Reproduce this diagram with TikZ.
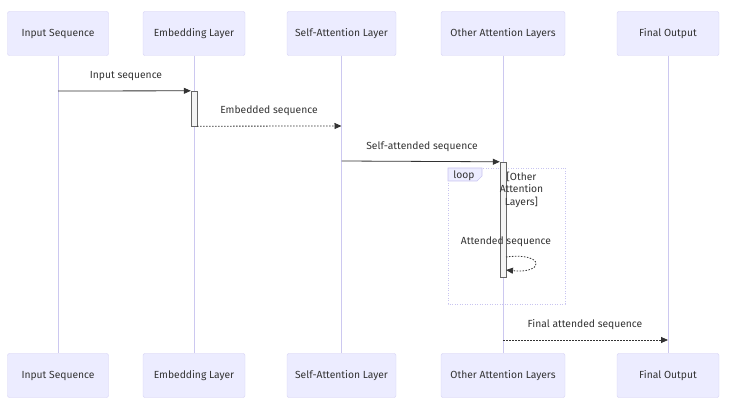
\documentclass[tikz,border=0pt]{standalone}
\usepackage{fontspec}
\setmainfont{Fira Sans}
\usepackage{tikz}
\usetikzlibrary{positioning}
\usetikzlibrary{arrows.meta}

\definecolor{actorfill}{HTML}{ECECFF}
\definecolor{actorborder}{HTML}{D4D0F4}
\definecolor{lifeline}{HTML}{CCC8F0}
\definecolor{msgtext}{HTML}{333333}
\definecolor{actfill}{HTML}{F4F4F4}
\definecolor{actborder}{HTML}{666666}
\definecolor{loopborder}{HTML}{C8C4F0}

\begin{document}
\begin{tikzpicture}[x=1pt, y=-1pt,
                actor/.style={rectangle, draw=actorborder, fill=actorfill, rounded corners=2pt, minimum height=44pt, text=msgtext, font=\fontsize{10.3}{12}\selectfont},
                activation/.style={rectangle, draw=actborder, fill=actfill, minimum width=6pt, inner sep=0pt},
                msglabel/.style={text=msgtext, font=\fontsize{10.3}{12.5}\selectfont, inner sep=0pt},
                lifelinestyle/.style={draw=lifeline, line width=0.8pt},
                solidmsg/.style={draw=msgtext, line width=0.8pt, -{Triangle[length=7pt,width=6pt]}},
                dottedmsg/.style={draw=msgtext, line width=0.8pt, dash pattern=on 1.5pt off 1.5pt, -{Triangle[length=7pt,width=6pt]}},
            ]
            \useasboundingbox (0,0) rectangle (737,406);

            % Nodes
            \node[actor, minimum width=101pt]  (input_top)   at (58,33.5)    {Input Sequence};
            \node[actor, minimum width=102pt]  (embed_top)   at (194,33.5)   {Embedding Layer};
            \node[actor, minimum width=109pt]  (self_top)    at (341.5,33.5) {Self-Attention Layer};
            \node[actor, minimum width=124pt]  (other_top)   at (503,33.5)   {Other Attention Layers};
            \node[actor, minimum width=102pt]  (final_top)   at (668,33.5)   {Final Output};

            \node[actor, minimum width=101pt]  (input_bot)   at (58,375.5)    {Input Sequence};
            \node[actor, minimum width=102pt]  (embed_bot)   at (194,375.5)   {Embedding Layer};
            \node[actor, minimum width=109pt]  (self_bot)    at (341.5,375.5) {Self-Attention Layer};
            \node[actor, minimum width=124pt]  (other_bot)   at (503,375.5)   {Other Attention Layers};
            \node[actor, minimum width=102pt]  (final_bot)   at (668,375.5)   {Final Output};

            %Lines
            \draw[lifelinestyle] (input_top.south) -- (input_bot.north);
            \draw[lifelinestyle] (embed_top.south) -- (embed_bot.north);
            \draw[lifelinestyle] (self_top.south) -- (self_bot.north);
            \draw[lifelinestyle] (other_top.south) -- (other_bot.north);
            \draw[lifelinestyle] (final_top.south) -- (final_bot.north);

            % Loop box
            \draw[draw=loopborder, line width=0.7pt, dash pattern=on 1pt off 1.5pt] (448,168) rectangle (565,304);
            \draw[draw=loopborder, fill=actorfill, line width=0.6pt] (448,168) -- (482,168) -- (482,176) -- (477,181) -- (448,181) -- cycle;

            % Activations
            \node[activation, minimum height=35pt]  (embed_act) at (194,108.5) {};
            \node[activation, minimum height=115pt] (other_act) at (503,219.5) {};

            \node[msglabel] (loop_tag)   at (464,175.5) {loop};
            \node[msglabel, align=center] (loop_cond) at (521.5,189.5) {[Other\\Attention\\Layers]};

            % Message points
            \coordinate (m1_from) at (input_top.south |- 0,91);
            \coordinate (m1_to)   at (embed_act.north west);
            \coordinate (m2_from) at (embed_act.south east);
            \coordinate (m2_to)   at (self_top.south |- 0,126);
            \coordinate (m3_from) at (self_top.south |- 0,161);
            \coordinate (m3_to)   at (other_act.north west);
            \coordinate (m4_from) at (506,257);
            \coordinate (m4_to)   at (506,270);
            \coordinate (m5_from) at (other_top.south |- 0,340);
            \coordinate (m5_to)   at (final_top.south |- 0,340);

            % Messages
            \draw[solidmsg]  (m1_from) -- (m1_to);
            \node[msglabel] (m1_label) at (126,76) {Input sequence};
            \draw[dottedmsg] (m2_from) -- (m2_to);
            \node[msglabel] (m2_label) at (269,111) {Embedded sequence};
            \draw[solidmsg]  (m3_from) -- (m3_to);
            \node[msglabel] (m3_label) at (422,147) {Self-attended sequence};
            \draw[dottedmsg] (m4_from) .. controls (545,252) and (545,274) .. (m4_to);
            \node[msglabel] (m4_label) at (506,242) {Attended sequence};
            \draw[dottedmsg] (m5_from) -- (m5_to);
            \node[msglabel] (m5_label) at (585,325) {Final attended sequence};
        \end{tikzpicture}
\end{document}
